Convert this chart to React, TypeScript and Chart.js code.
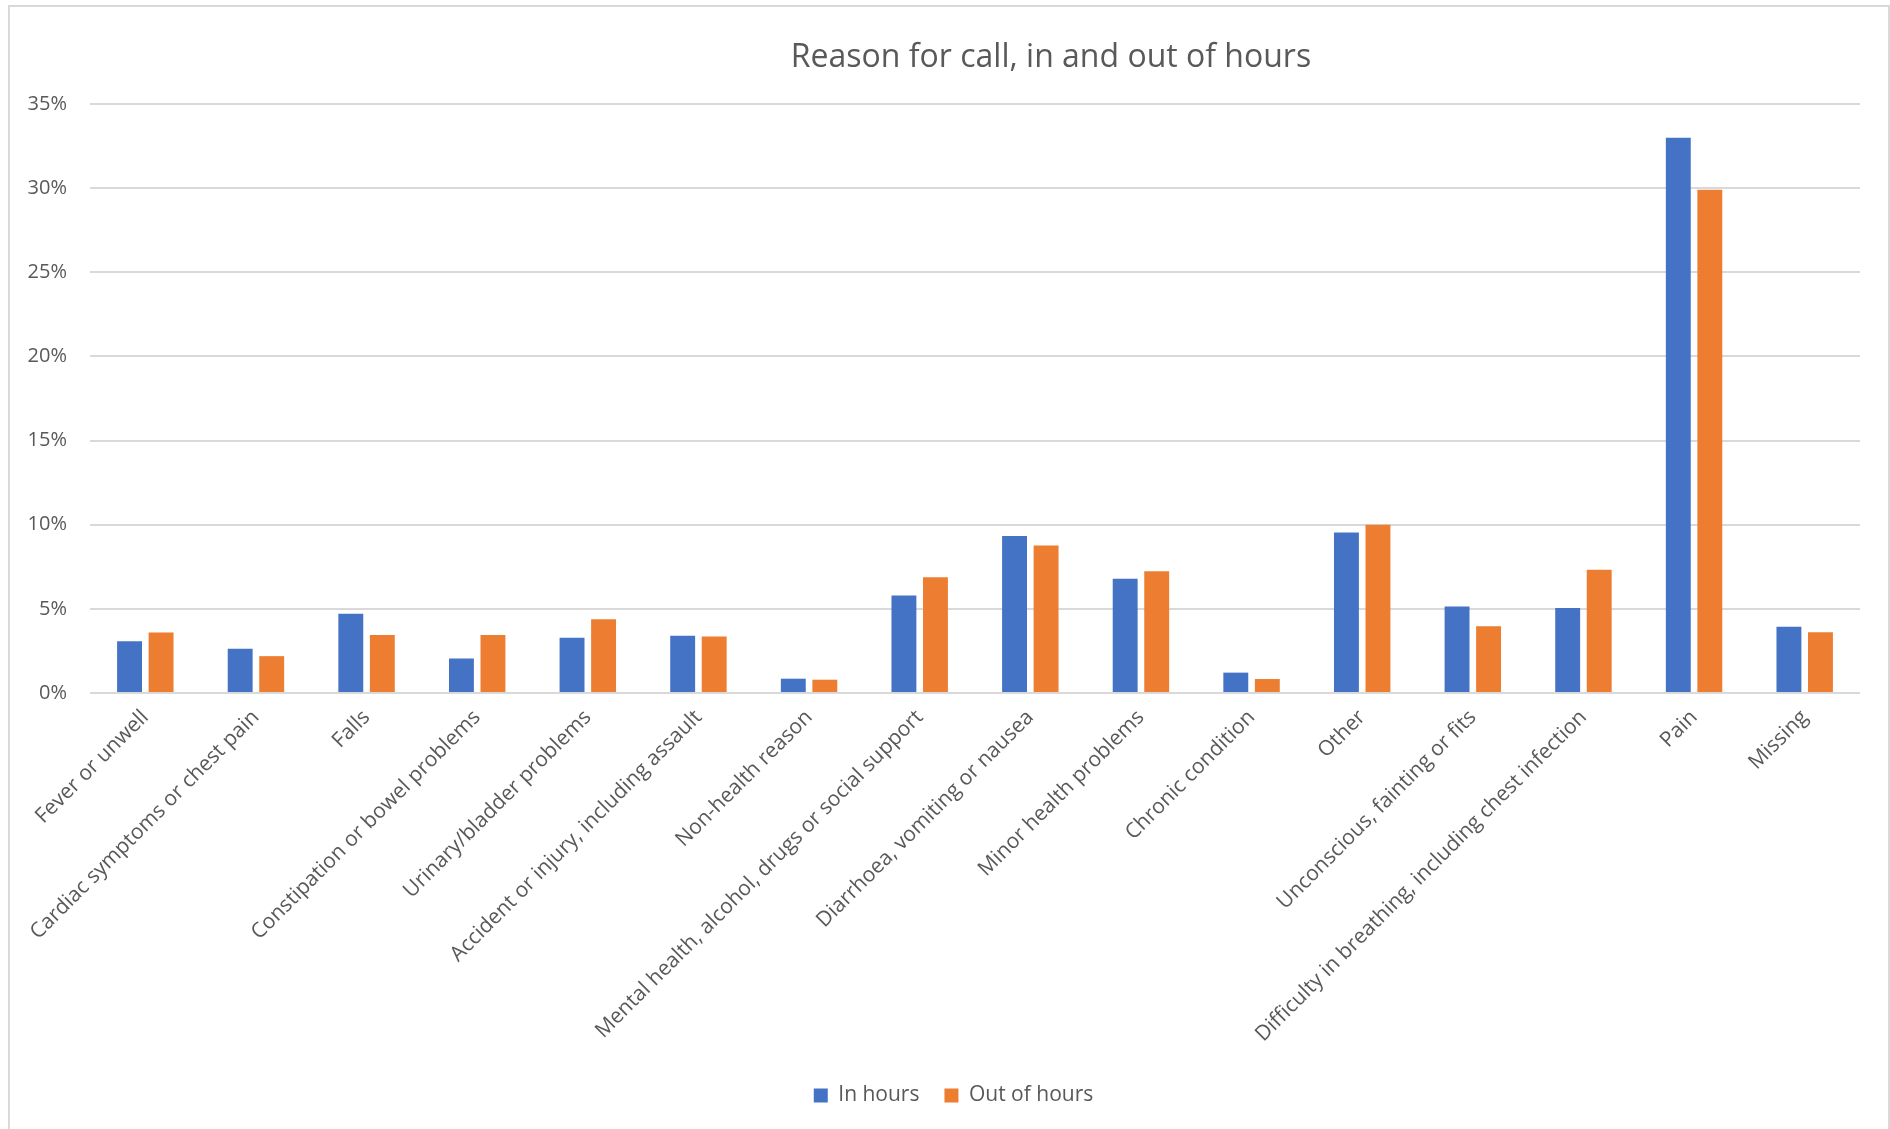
import React, { useEffect, useRef } from "react";
import { Chart, registerables } from "chart.js";

Chart.register(...registerables);

const TITLE = "Reason for call, in and out of hours";

const categories = [
  "Fever or unwell",
  "Cardiac symptoms or chest pain",
  "Falls",
  "Constipation or bowel problems",
  "Urinary/bladder problems",
  "Accident or injury, including assault",
  "Non-health reason",
  "Mental health, alcohol, drugs or social support",
  "Diarrhoea, vomiting or nausea",
  "Minor health problems",
  "Chronic condition",
  "Other",
  "Unconscious, fainting or fits",
  "Difficulty in breathing, including chest infection",
  "Pain",
  "Missing",
];

const seriesNames = ["In hours", "Out of hours"];

// Share of calls (%) per reason
const inHours = [3.07, 2.63, 4.71, 2.05, 3.29, 3.4, 0.85, 5.79, 9.33, 6.79, 1.21, 9.54, 5.14, 5.05, 33.0, 3.94];
const outOfHours = [3.59, 2.19, 3.45, 3.45, 4.38, 3.35, 0.79, 6.88, 8.77, 7.24, 0.83, 10.0, 3.96, 7.33, 29.9, 3.61];

const yTicks = [0, 5, 10, 15, 20, 25, 30, 35];

const BLUE = "#4472C4";
const ORANGE = "#ED7D31";
const TEXT = "#595959";
const GRID = "#d9d9d9";
const FONT = "'Open Sans', Lato, sans-serif";

const CANVAS_W = 1907;
const CANVAS_H = 1129;

// Title drawn off-centre, to the right of the plot's middle
const titlePlugin = {
  id: "offsetTitle",
  afterDraw(chart: any) {
    const { ctx } = chart;
    ctx.save();
    ctx.font = `32px ${FONT}`;
    ctx.fillStyle = TEXT;
    ctx.textAlign = "center";
    ctx.textBaseline = "alphabetic";
    ctx.fillText(TITLE, 1051, 67);
    ctx.restore();
  },
};

export default function App() {
  const canvasRef = useRef<HTMLCanvasElement | null>(null);

  useEffect(() => {
    const canvas = canvasRef.current;
    if (!canvas) return;
    const chart = new Chart(canvas, {
      type: "bar",
      data: {
        labels: categories,
        datasets: [
          {
            label: seriesNames[0],
            data: inHours,
            backgroundColor: BLUE,
            borderWidth: 0,
            categoryPercentage: 0.57,
            barPercentage: 0.79,
          },
          {
            label: seriesNames[1],
            data: outOfHours,
            backgroundColor: ORANGE,
            borderWidth: 0,
            categoryPercentage: 0.57,
            barPercentage: 0.79,
          },
        ],
      },
      options: {
        responsive: false,
        animation: false,
        devicePixelRatio: 1,
        layout: { padding: { top: 104, left: 0, right: 0, bottom: 13 } },
        plugins: {
          title: { display: false },
          tooltip: { enabled: false },
          legend: {
            position: "bottom",
            labels: {
              boxWidth: 14,
              boxHeight: 14,
              padding: 25,
              color: TEXT,
              font: { family: FONT, size: 21 },
            },
          },
        },
        scales: {
          x: {
            grid: { display: false },
            border: { display: false },
            ticks: {
              autoSkip: false,
              minRotation: 45,
              maxRotation: 45,
              color: TEXT,
              font: { family: FONT, size: 21 },
              padding: 4,
            },
            afterFit(scale: any) {
              scale.height = 367;
            },
          },
          y: {
            min: 0,
            max: 35,
            afterBuildTicks(scale: any) {
              scale.ticks = yTicks.map((v) => ({ value: v }));
            },
            grid: { color: GRID, lineWidth: 2, drawTicks: false },
            border: { display: false },
            ticks: {
              color: TEXT,
              font: { family: FONT, size: 20 },
              padding: 23,
              callback: (v: any) => `${v}%`,
            },
            afterFit(scale: any) {
              scale.width = 90;
            },
          },
          // empty right-hand margin axis, keeps the plot clear of the frame
          margin: {
            type: "linear",
            position: "right",
            display: true,
            grid: { display: false },
            border: { display: false },
            ticks: { display: false },
            afterFit(scale: any) {
              scale.width = CANVAS_W - 1860;
            },
          },
        },
      },
      plugins: [titlePlugin],
    });
    return () => chart.destroy();
  }, []);

  return (
    <div
      style={{
        position: "absolute",
        left: 0,
        top: 0,
        width: 1890,
        height: 1129,
        overflow: "hidden",
        background: "#ffffff",
      }}
    >
      <canvas ref={canvasRef} width={CANVAS_W} height={CANVAS_H} style={{ display: "block" }} />
      <div
        style={{
          position: "absolute",
          left: 8,
          top: 5,
          width: 1882,
          height: 1300,
          boxSizing: "border-box",
          border: `2px solid ${GRID}`,
          pointerEvents: "none",
        }}
      />
    </div>
  );
}
